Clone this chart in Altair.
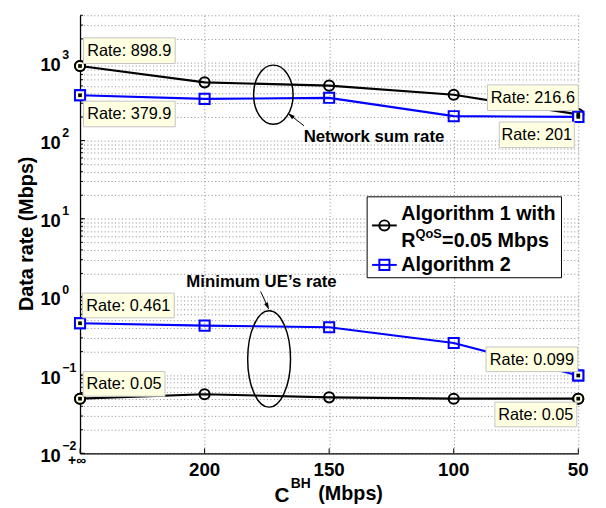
import altair as alt
import pandas as pd

FONT = "Liberation Sans"

# ---------------- data ----------------
x_index = [0, 1, 2, 3, 4]
x_labels = ["+∞", "200", "150", "100", "50"]
alg1_sum = [898.9, 555, 504, 385, 216.6]
alg2_sum = [379.9, 341, 352, 205, 201]
alg1_min = [0.05, 0.057, 0.052, 0.05, 0.05]
alg2_min = [0.461, 0.43, 0.41, 0.258, 0.099]

decades = [-2, -1, 0, 1, 2, 3]
exp_labels = ["−2", "−1", "0", "1", "2", "3"]
grid_vals = [m * 10.0 ** k for k in range(-2, 4) for m in range(1, 10) if m * 10.0 ** k <= 4000]

series = {
    ("A1", "sum"): alg1_sum,
    ("A2", "sum"): alg2_sum,
    ("A1", "min"): alg1_min,
    ("A2", "min"): alg2_min,
}
rows = []
for (algo, metric), vals in series.items():
    for xi, v in zip(x_index, vals):
        rows.append({"xi": xi, "value": v, "algo": algo, "metric": metric, "key": algo + metric})
df = pd.DataFrame(rows)

# ---------------- scales / encodings ----------------
GRID = dict(grid=True, gridDash=[1, 2.5], gridColor="#8a8a8a", gridWidth=1,
            labels=False, ticks=False, title=None, domainColor="black", domainWidth=1.3)
X = alt.X("xi:Q", scale=alt.Scale(domain=[0, 4], nice=False, zero=False),
          axis=alt.Axis(values=x_index, **GRID))
Y = alt.Y("value:Q", scale=alt.Scale(type="log", domain=[0.01, 4000], nice=False),
          axis=alt.Axis(values=grid_vals, **GRID))
COL = alt.Color("algo:N", scale=alt.Scale(domain=["A1", "A2"], range=["#000000", "#0000ff"]), legend=None)
SHP = alt.Shape("algo:N", scale=alt.Scale(domain=["A1", "A2"], range=["circle", "square"]), legend=None)


def ellipse_path(ratio):
    k = 0.5523
    rx, ry = ratio, 1.0
    return (f"M {rx} 0 C {rx} {k*ry} {k*rx} {ry} 0 {ry} "
            f"C {-k*rx} {ry} {-rx} {k*ry} {-rx} 0 "
            f"C {-rx} {-k*ry} {-k*rx} {-ry} 0 {-ry} "
            f"C {k*rx} {-ry} {rx} {-k*ry} {rx} 0 Z")


def rect_path(w, h):
    r = h / w
    return f"M -1 {-r:.4f} L 1 {-r:.4f} L 1 {r:.4f} L -1 {r:.4f} Z"


layers = []

# ticks (inward)
ytick_df = pd.DataFrame({"value": grid_vals})
layers.append(alt.Chart(ytick_df).mark_rule(color="black", strokeWidth=1).encode(
    x=alt.value(0), x2=alt.value(3), y=Y))
ymaj_df = pd.DataFrame({"value": [10.0 ** d for d in decades]})
layers.append(alt.Chart(ymaj_df).mark_rule(color="black", strokeWidth=1).encode(
    x=alt.value(0), x2=alt.value(5), y=Y))
xtick_df = pd.DataFrame({"xi": x_index})
layers.append(alt.Chart(xtick_df).mark_rule(color="black", strokeWidth=1).encode(
    x=X, y=alt.value(439), y2=alt.value(444)))

# data lines & markers
layers.append(alt.Chart(df).mark_line(strokeWidth=2.2).encode(
    x=X, y=Y, color=COL, detail="key:N", order="xi:Q"))
layers.append(alt.Chart(df).mark_point(size=105, strokeWidth=2, filled=False, opacity=1).encode(
    x=X, y=Y, color=COL, shape=SHP))

# datatip markers (end points)
tip_pts = df[df["xi"].isin([0, 4])]
layers.append(alt.Chart(tip_pts).mark_point(size=105, strokeWidth=2, fill="#ffffe1", fillOpacity=1, opacity=1).encode(
    x=X, y=Y, stroke=alt.Stroke("algo:N", scale=alt.Scale(domain=["A1", "A2"], range=["#000000", "#0000ff"]), legend=None),
    shape=SHP))
layers.append(alt.Chart(tip_pts).mark_point(shape="square", size=14, filled=True, color="black", opacity=1).encode(
    x=X, y=Y))

# annotations: ellipses, arrows, texts
ell_net = pd.DataFrame({"xi": [1.552], "value": [385.7]})
layers.append(alt.Chart(ell_net).mark_point(shape=ellipse_path(0.667), size=3600, filled=False,
                                            color="black", strokeWidth=1.5, opacity=1).encode(x=X, y=Y))
ell_min = pd.DataFrame({"xi": [1.518], "value": [0.161]})
layers.append(alt.Chart(ell_min).mark_point(shape=ellipse_path(0.445), size=9526, filled=False,
                                            color="black", strokeWidth=1.5, opacity=1).encode(x=X, y=Y))

arrows = pd.DataFrame({"xi": [1.798, 1.4495], "value": [154.6, 1.177],
                       "xi2": [1.691, 1.505], "value2": [209.6, 0.761]})
layers.append(alt.Chart(arrows).mark_rule(color="black", strokeWidth=1).encode(
    x=X, y=Y, x2=alt.X2("xi2"), y2=alt.Y2("value2")))
heads = [(1.691, 209.6, 308), (1.505, 0.761, 155)]
for hx, hy, ang in heads:
    layers.append(alt.Chart(pd.DataFrame({"xi": [hx], "value": [hy]})).mark_point(
        shape="M 0 -1 L 0.55 0.9 L -0.55 0.9 Z", size=60, filled=True, color="black", opacity=1,
        angle=ang).encode(x=X, y=Y))

notes = [("Network sum rate", 2.36, 112.3), ("Minimum UE’s rate", 1.457, 1.53)]
for txt, nx, ny in notes:
    layers.append(alt.Chart(pd.DataFrame({"xi": [nx], "value": [ny]})).mark_text(
        text=txt, font=FONT, fontSize=17, fontWeight="bold", align="center", baseline="middle",
        color="black").encode(x=X, y=Y))

# datatips: (series values, index, xOffset, yOffset, width, height)
tips = [
    (alg1_sum, 0, 50, -15.5, 93, 26),
    (alg2_sum, 0, 50, 19, 93, 26),
    (alg1_sum, 4, -46, -16.8, 92, 26),
    (alg2_sum, 4, -42, 18.2, 76, 26),
    (alg2_min, 0, 49, -18, 93, 25),
    (alg1_min, 0, 44.6, -15, 83, 25),
    (alg2_min, 4, -47, -16.4, 93, 25),
    (alg1_min, 4, -43, 16, 83, 25),
]
for vals, i, dx, dy, w, h in tips:
    v = vals[i]
    tdf = pd.DataFrame({"xi": [x_index[i]], "value": [v]})
    layers.append(alt.Chart(tdf).mark_point(
        shape=rect_path(w, h), size=w * w, filled=True, fill="#ffffe1", stroke="#c4c4c4",
        strokeWidth=1, opacity=1, fillOpacity=1, xOffset=dx, yOffset=dy).encode(x=X, y=Y))
    layers.append(alt.Chart(tdf).mark_text(
        text=f"Rate: {v:g}", font=FONT, fontSize=16.5, align="center", baseline="middle",
        color="black", xOffset=dx, yOffset=dy + 0.5).encode(x=X, y=Y))

# y tick labels 10^k
ylab = pd.DataFrame({"value": [10.0 ** d for d in decades], "exp": exp_labels})
layers.append(alt.Chart(ylab).mark_text(
    text="10", font=FONT, fontSize=18.5, fontWeight="bold", align="right", baseline="alphabetic",
    dy=8.6, color="black").encode(x=alt.value(-19.5), y=Y))
layers.append(alt.Chart(ylab).mark_text(
    font=FONT, fontSize=12.5, fontWeight="bold", align="left", baseline="alphabetic",
    dy=-3.5, color="black").encode(x=alt.value(-18), y=Y, text="exp:N"))

# x tick labels
xlab = pd.DataFrame({"xi": x_index[1:], "lab": x_labels[1:]})
layers.append(alt.Chart(xlab).mark_text(
    font=FONT, fontSize=19, fontWeight="bold", align="center", baseline="alphabetic",
    color="black").encode(x=X, y=alt.value(466.5), text="lab:N"))
layers.append(alt.Chart(pd.DataFrame({"xi": [0]})).mark_text(
    text=x_labels[0], font=FONT, fontSize=14, fontWeight="bold", align="center", baseline="middle",
    color="black", dx=-3).encode(x=X, y=alt.value(451.5)))

# axis titles
layers.append(alt.Chart(pd.DataFrame({"t": [0]})).mark_text(
    text="Data rate (Mbps)", font=FONT, fontSize=20, fontWeight="bold", align="center",
    baseline="alphabetic", angle=270, color="black").encode(x=alt.value(-48), y=alt.value(221.5)))
for txt, px, py, fs in [("C", 197, 493, 21), ("BH", 213.5, 479.5, 14), ("(Mbps)", 241.5, 491.5, 20)]:
    layers.append(alt.Chart(pd.DataFrame({"t": [0]})).mark_text(
        text=txt, font=FONT, fontSize=fs, fontWeight="bold", align="left", baseline="alphabetic",
        color="black").encode(x=alt.value(px), y=alt.value(py)))

# legend
layers.append(alt.Chart(pd.DataFrame({"t": [0]})).mark_rect(
    fill="white", stroke="black", strokeWidth=1).encode(
    x=alt.value(291), x2=alt.value(488), y=alt.value(184), y2=alt.value(266)))
for col, shp, ly in [("#000000", "circle", 213), ("#0000ff", "square", 253)]:
    layers.append(alt.Chart(pd.DataFrame({"t": [0]})).mark_rule(color=col, strokeWidth=2).encode(
        x=alt.value(296), x2=alt.value(321), y=alt.value(ly)))
    layers.append(alt.Chart(pd.DataFrame({"t": [0]})).mark_point(
        shape=shp, size=105, filled=False, color=col, strokeWidth=2, opacity=1).encode(
        x=alt.value(308.5), y=alt.value(ly)))
for txt, px, py, fs in [("Algorithm 1 with", 325.5, 207.5, 20), ("R", 325.5, 234.5, 20),
                        ("QoS", 340, 225.5, 13), ("=0.05 Mbps", 367, 234.5, 20),
                        ("Algorithm 2", 325.5, 259, 20)]:
    layers.append(alt.Chart(pd.DataFrame({"t": [0]})).mark_text(
        text=txt, font=FONT, fontSize=fs, fontWeight="bold", align="left", baseline="alphabetic",
        color="black").encode(x=alt.value(px), y=alt.value(py)))

chart = alt.layer(*layers).properties(
    width=505, height=444,
    autosize=alt.AutoSizeParams(type="none"),
    padding={"left": 73, "top": 4, "right": 20, "bottom": 52},
).configure_view(stroke=None)

chart.save("out.html", embed_options={"renderer": "svg", "actions": False})
